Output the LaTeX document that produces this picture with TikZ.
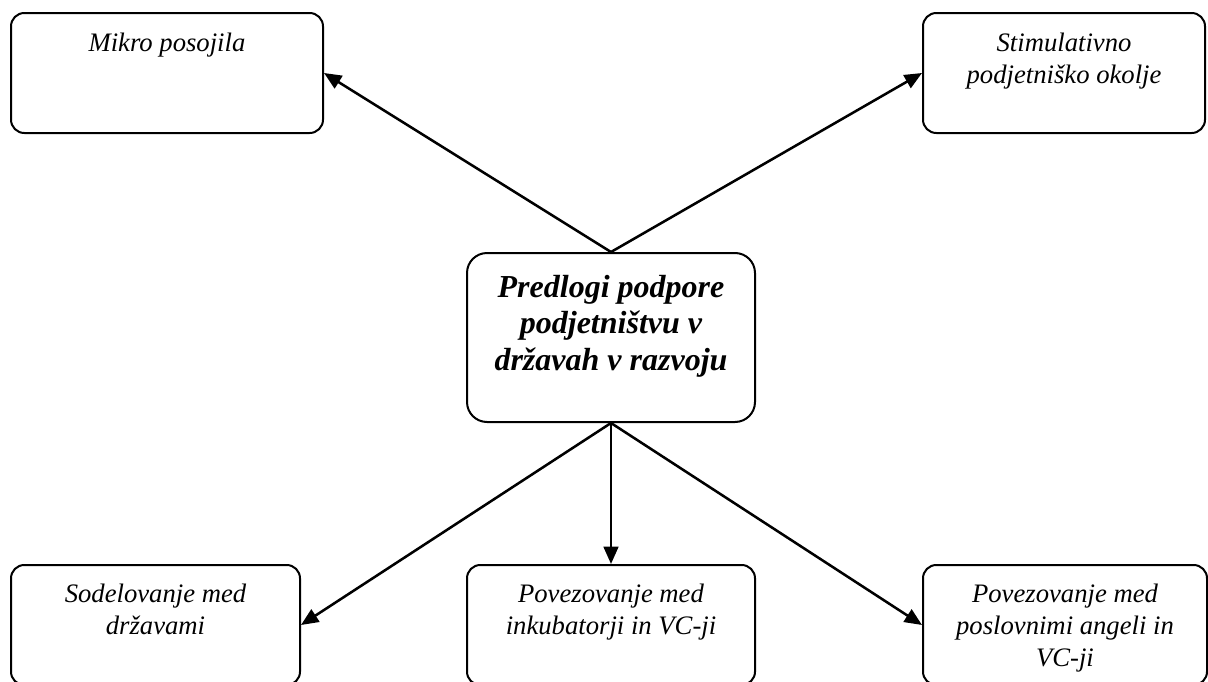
\documentclass[tikz,border=0pt]{standalone}
\usepackage{fontspec}
\setmainfont{Liberation Serif}
\usepackage{tikz}
\usetikzlibrary{arrows.meta,positioning}

\begin{document}
\begin{tikzpicture}[>={Triangle[length=13pt,width=11pt]}, x=0.75pt, y=-0.75pt,
        box/.style={draw, line width=1.5pt, rounded corners=10pt, minimum height=90pt},
        mainbox/.style={box, rounded corners=15pt, minimum width=216pt, minimum height=126.75pt},
        txt/.style={inner sep=0pt, align=center, font=\fontsize{20}{24}\selectfont\itshape},
        maintxt/.style={txt, font=\fontsize{24}{27.5}\selectfont\bfseries\itshape},
        link/.style={->, line width=1.9pt}]
        \useasboundingbox (0, 0) rectangle (1208, 682);
        \clip (0, 0) rectangle (1208, 682);

        % boxes
        \node[mainbox] (predlogi) at (611, 337.5) {};
        \node[box, minimum width=234pt] (mikro) at (167, 73) {};
        \node[box, minimum width=211.5pt] (stim) at (1064, 73) {};
        \node[box, minimum width=216.75pt] (sodel) at (155.5, 625) {};
        \node[box, minimum width=216pt] (inkub) at (611, 625) {};
        \node[box, minimum width=213pt] (angeli) at (1065, 625) {};

        % texts
        \node[maintxt, below=17pt of predlogi.north] (predlogitxt) {Predlogi podpore\\podjetništvu v\\državah v razvoju};
        \node[txt, below=15.5pt of mikro.north] (mikrotxt) {Mikro posojila};
        \node[txt, below=15.5pt of stim.north] (stimtxt) {Stimulativno\\podjetniško okolje};
        \node[txt, below=15pt of sodel.north] (sodeltxt) {Sodelovanje med\\državami};
        \node[txt, below=15pt of inkub.north] (inkubtxt) {Povezovanje med\\inkubatorji in VC-ji};
        \node[txt, below=15pt of angeli.north] (angelitxt) {Povezovanje med\\poslovnimi angeli in\\VC-ji};

        % arrows
        \draw[link] (predlogi.north) -- (mikro.east);
        \draw[link] (predlogi.north) -- (stim.west);
        \draw[link] (predlogi.south) -- (sodel.east);
        \draw[link] (predlogi.south) -- (inkub.north);
        \draw[link] (predlogi.south) -- (angeli.west);
    \end{tikzpicture}
\end{document}
